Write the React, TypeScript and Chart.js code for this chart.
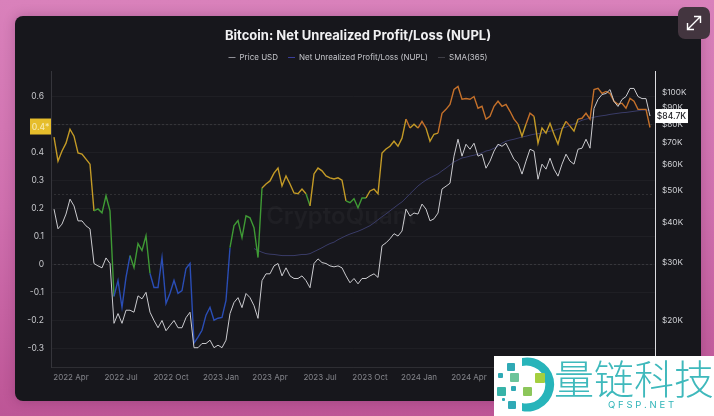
import { useEffect, useRef } from "react"
import { Chart, registerables } from "chart.js"

Chart.register(...registerables)

// one reading every 7 days or so, starting March 2022
const nupl = [
  0.456, 0.37, 0.406, 0.434, 0.484, 0.459, 0.399, 0.395, 0.377, 0.359,
  0.192, 0.199, 0.185, 0.246, 0.192, -0.114, -0.057, -0.153, -0.046, 0.032,
  -0.011, 0.075, 0.05, 0.103, -0.032, -0.082, -0.082, 0.025, -0.139, -0.103,
  -0.057, -0.103, -0.093, -0.014, 0.004, -0.281,
  -0.26, -0.235, -0.181, -0.153, -0.199, -0.192, -0.189, -0.128, 0.06, 0.139,
  0.157, 0.096, 0.174, 0.167, 0.132, 0.025, 0.274, 0.288, 0.299, 0.327,
  0.345, 0.281, 0.317, 0.288, 0.256, 0.253, 0.27, 0.253, 0.21, 0.324,
  0.345, 0.335, 0.317, 0.31, 0.306, 0.31, 0.302,
  0.228, 0.221, 0.235, 0.203, 0.238, 0.238, 0.263, 0.27, 0.253, 0.399,
  0.413, 0.423, 0.441, 0.423, 0.452, 0.52, 0.488, 0.502, 0.488, 0.512,
  0.488, 0.441, 0.466, 0.47, 0.541, 0.555, 0.573, 0.626, 0.637, 0.591,
  0.594, 0.591, 0.601, 0.559, 0.566, 0.52,
  0.53, 0.566, 0.584, 0.566, 0.573, 0.548, 0.52, 0.502, 0.459, 0.502,
  0.541, 0.53, 0.434, 0.488, 0.47, 0.505, 0.466, 0.431, 0.484, 0.512,
  0.495, 0.477, 0.52, 0.523, 0.541, 0.52, 0.626, 0.63, 0.612, 0.619,
  0.612, 0.584, 0.573, 0.577, 0.559, 0.594, 0.584, 0.555, 0.555, 0.555,
  0.49,
]

// thousands of USD
const priceUsd = [
  43.9, 38.2, 39.5, 42.4, 47.1, 44.9, 40.4, 40.4, 39.0, 38.2,
  29.9, 29.4, 29.0, 31.1, 29.9, 19.6, 21.0, 19.6, 21.5, 21.5,
  21.2, 23.8, 23.3, 24.4, 21.2, 20.0, 19.0, 20.0, 18.6, 19.3,
  20.0, 19.0, 19.0, 20.4, 21.2, 16.5,
  16.5, 17.0, 17.0, 17.4, 16.5, 16.8, 16.5, 17.4, 21.0, 22.7,
  23.5, 21.9, 24.2, 23.5, 22.2, 20.3, 26.5, 27.8, 27.8, 29.4,
  29.9, 27.4, 29.0, 27.4, 26.9, 26.9, 27.4, 26.5, 25.2, 29.9,
  30.9, 30.1, 29.9, 29.4, 29.2, 29.4, 29.0,
  27.4, 26.1, 26.9, 25.9, 26.9, 26.9, 27.4, 27.8, 27.1, 33.9,
  34.6, 35.6, 36.9, 36.3, 37.6, 43.9, 41.8, 42.7, 42.4, 45.5,
  43.9, 40.4, 41.0, 42.7, 50.6, 51.6, 52.7, 63.8, 71.9, 63.8,
  69.4, 67.0, 69.9, 63.8, 64.7, 58.6,
  61.6, 66.1, 69.4, 68.4, 69.9, 66.1, 62.4, 60.7, 56.2, 61.6,
  67.0, 66.1, 54.2, 60.3, 58.2, 62.9, 58.2, 55.4, 60.3, 64.7,
  61.6, 60.3, 67.0, 67.5, 71.9, 67.5, 89.4, 95.2, 98.6, 99.3,
  102.1, 93.9, 90.6, 95.2, 97.2, 102.9, 102.9, 97.2, 95.8, 95.8,
  84.7,
]

// the 365 day average only starts at reading 50
const smaStart = 50
const sma365 = [
  0.057, 0.05, 0.044, 0.039, 0.037, 0.036, 0.034, 0.032, 0.032, 0.032,
  0.032, 0.034, 0.036, 0.036, 0.039, 0.046, 0.053, 0.06, 0.068, 0.075,
  0.08, 0.089, 0.096, 0.103, 0.109, 0.114, 0.119, 0.125, 0.132, 0.139,
  0.149, 0.16, 0.171, 0.181, 0.192, 0.203, 0.214, 0.224, 0.238, 0.253,
  0.267, 0.281, 0.292, 0.302, 0.31, 0.317, 0.324, 0.335, 0.345, 0.356,
  0.367, 0.374, 0.381, 0.384, 0.388, 0.391, 0.395, 0.399, 0.406, 0.409,
  0.416, 0.423, 0.434, 0.441, 0.445, 0.448, 0.452, 0.456, 0.459, 0.463,
  0.466, 0.468, 0.47, 0.473, 0.477, 0.48, 0.484, 0.488, 0.491, 0.498,
  0.502, 0.509, 0.516, 0.52, 0.523, 0.527, 0.53, 0.532, 0.534, 0.537,
  0.539, 0.541, 0.543, 0.544, 0.546, 0.548, 0.55, 0.552, 0.552, 0.552,
]

const xLabels = ["2022 Apr", "2022 Jul", "2022 Oct", "2023 Jan", "2023 Apr", "2023 Jul", "2023 Oct", "2024 Jan", "2024 Apr", "2024 Jul", "2024 Oct", "2025 Jan"]
const xTickAt = [4.25, 16.75, 29.25, 41.75, 54, 66.5, 79, 91.25, 103.75, 116.25, 128.5, 141]
const nuplTicks = [-0.3, -0.2, -0.1, 0, 0.1, 0.2, 0.3, 0.4, 0.5, 0.6]
const priceTicks = [20, 30, 40, 50, 60, 70, 80, 90, 100]
const zoneLines = [0, 0.25, 0.5]

const FONT = "Inter, 'Noto Sans', sans-serif"

function zoneColor(v: number) {
  if (v < 0) return "#2a4db5"
  if (v < 0.25) return "#3f9a35"
  if (v < 0.5) return "#c39a26"
  return "#c4702a"
}

const overlay = {
  id: "overlay",
  beforeDatasetsDraw(chart: any) {
    const { ctx, chartArea, scales } = chart
    ctx.save()
    // watermark
    ctx.fillStyle = "rgba(255,255,255,0.035)"
    ctx.font = `600 24px ${FONT}`
    ctx.textAlign = "center"
    ctx.textBaseline = "middle"
    ctx.fillText("CryptoQuant", 341, 217)
    // dashed zone lines
    ctx.strokeStyle = "rgba(255,255,255,0.16)"
    ctx.lineWidth = 0.7
    ctx.setLineDash([2, 2])
    zoneLines.forEach((v) => {
      const y = scales.y.getPixelForValue(v)
      ctx.beginPath()
      ctx.moveTo(chartArea.left + 3, y)
      ctx.lineTo(chartArea.right - 2, y)
      ctx.stroke()
    })
    ctx.restore()
  },
  afterDraw(chart: any) {
    const { ctx, scales } = chart
    ctx.save()
    ctx.textAlign = "center"
    ctx.textBaseline = "middle"
    ctx.font = `500 8.5px ${FONT}`
    const lastPrice = priceUsd[priceUsd.length - 1]
    const py = scales.price.getPixelForValue(lastPrice)
    ctx.fillStyle = "#ffffff"
    ctx.fillRect(655, py - 7, 33, 14)
    ctx.fillStyle = "#1b1b20"
    ctx.fillText("$84.7K", 671.5, py + 0.5)
    const ny = scales.y.getPixelForValue(nupl[nupl.length - 1])
    ctx.fillStyle = "#e6bd2b"
    ctx.fillRect(30, ny - 9, 21, 16)
    ctx.fillStyle = "#f7e9b0"
    ctx.fillText("0.4*", 40.5, ny - 0.5)
    ctx.restore()
  },
}

function Logo() {
  const squares = [
    [507, 363, 8, "#2fa9b5"], [498, 373, 5, "#2fa9b5"], [510, 373, 9, "#6cc49a"],
    [535, 373, 10, "#a5cf3f"], [497, 387, 9, "#37b3a8"], [511, 386, 5, "#2fa9b5"],
    [523, 387, 9, "#8cc65a"], [508, 401, 8, "#2fa9b5"], [502, 398, 3, "#2fa9b5"],
  ] as [number, number, number, string][]
  return (
    <svg width={70} height={60} viewBox="494 356 70 60" style={{ position: "absolute", left: 0, top: 0 }}>
      <path d="M522 358 A27 27 0 1 1 522 411 L522 403 A19 19 0 1 0 522 366 Z" fill="#27b4ba" />
      {squares.map(([x, y, s, c], i) => (
        <rect key={i} x={x} y={y} width={s} height={s} rx={1} fill={c} />
      ))}
    </svg>
  )
}

export default function App() {
  const chartRef = useRef<HTMLCanvasElement>(null)

  useEffect(() => {
    if (!chartRef.current) return
    document.body.style.margin = "0"

    const chart = new Chart(chartRef.current, {
      type: "line",
      data: {
        datasets: [
          {
            label: "Price USD",
            data: priceUsd.map((y, x) => ({ x, y })),
            yAxisID: "price",
            borderColor: "#cbcbcf",
            backgroundColor: "#8f8f96",
            borderWidth: 1,
          },
          {
            label: "Net Unrealized Profit/Loss (NUPL)",
            data: nupl.map((y, x) => ({ x, y })),
            yAxisID: "y",
            borderColor: "#3b3f9c",
            backgroundColor: "#3b3f9c",
            borderWidth: 1.4,
            segment: {
              borderColor: (c: any) => zoneColor((c.p0.parsed.y + c.p1.parsed.y) / 2),
            },
          },
          {
            label: "SMA(365)",
            data: sma365.map((y, i) => ({ x: i + smaStart, y })),
            yAxisID: "y",
            borderColor: "#3a3c68",
            backgroundColor: "#3f3f47",
            borderWidth: 1,
          },
        ] as any,
      },
      options: {
        animation: false,
        responsive: false,
        devicePixelRatio: 1,
        elements: { point: { radius: 0 }, line: { tension: 0 } },
        layout: { padding: { left: 15, right: 13, top: 28, bottom: 25 } },
        plugins: {
          tooltip: { enabled: false },
          title: {
            display: true,
            text: "Bitcoin: Net Unrealized Profit/Loss (NUPL)",
            color: "#f0f0f2",
            font: { family: FONT, size: 13, weight: "bold" },
            padding: 0,
          },
          legend: {
            position: "top",
            labels: {
              color: "#c4c5ca",
              font: { family: FONT, size: 8 },
              boxWidth: 7,
              boxHeight: 1,
              padding: 10,
              generateLabels: (c: any) =>
                Chart.defaults.plugins.legend.labels.generateLabels(c).map((l: any) => ({ ...l, lineWidth: 0 })),
            },
          },
        },
        scales: {
          x: {
            type: "linear",
            min: -0.75,
            max: 150.25,
            afterBuildTicks: (s: any) => {
              s.ticks = xTickAt.map((value) => ({ value }))
            },
            grid: { display: false, drawTicks: false },
            border: { color: "rgba(255,255,255,0.1)" },
            afterFit: (s: any) => {
              s.height = 24
            },
            ticks: {
              color: "#85868c",
              font: { family: FONT, size: 8 },
              maxRotation: 0,
              autoSkip: false,
              padding: 6,
              callback: (v: any) => xLabels[xTickAt.indexOf(v)],
            },
          },
          y: {
            type: "linear",
            position: "left",
            min: -0.3665,
            max: 0.69,
            afterBuildTicks: (s: any) => {
              s.ticks = nuplTicks.map((value) => ({ value }))
            },
            afterFit: (s: any) => {
              s.width = 36
            },
            grid: { color: "rgba(255,255,255,0.035)", drawTicks: false },
            border: { color: "#35353b" },
            ticks: {
              color: "#c6c7cb",
              font: { family: FONT, size: 8.5 },
              padding: 7,
              callback: (v: any) => (v === 0.5 ? "" : String(v)),
            },
          },
          price: {
            type: "logarithmic",
            position: "right",
            min: 14.4,
            max: 115.9,
            afterBuildTicks: (s: any) => {
              s.ticks = priceTicks.map((value) => ({ value }))
            },
            afterFit: (s: any) => {
              s.width = 46
            },
            grid: { display: false, drawTicks: false },
            border: { color: "#dcdce0" },
            ticks: {
              color: "#d0d1d5",
              font: { family: FONT, size: 8.2 },
              padding: 7,
              autoSkip: false,
              callback: (v: any) => `$${v}K`,
            },
          },
        },
      } as any,
      plugins: [overlay],
    })

    return () => chart.destroy()
  }, [])

  return (
    <div
      style={{
        position: "fixed",
        inset: 0,
        overflow: "hidden",
        background: "linear-gradient(180deg, #d981bb 0%, #cf6fae 50%, #bd5596 100%)",
      }}
    >
      <div
        style={{
          position: "absolute",
          left: 15,
          top: 16,
          width: 686,
          height: 385,
          borderRadius: 8,
          background: "#17171c",
          boxShadow: "0 0 12px rgba(60,10,50,0.25)",
        }}
      />
      <canvas ref={chartRef} width={714} height={416} style={{ position: "absolute", left: 0, top: 0 }} />
      <div
        style={{
          position: "absolute",
          left: 678,
          top: 7,
          width: 32,
          height: 32,
          borderRadius: 7,
          background: "#43353f",
        }}
      >
        <svg width={32} height={32} viewBox="0 0 32 32" fill="none" stroke="#fff" strokeWidth={1.4}>
          <path d="M10 22 L22 10 M16 9.5 H22.5 V16 M9.5 16 V22.5 H16" />
        </svg>
      </div>
      <div style={{ position: "absolute", left: 494, top: 356, width: 220, height: 60, background: "#fff" }}>
        <Logo />
        <div
          style={{
            position: "absolute",
            left: 60,
            top: -5,
            fontFamily: "'Noto Sans CJK SC'",
            fontWeight: 300,
            fontSize: 40,
            lineHeight: "52px",
            color: "#3fb9bc",
            whiteSpace: "nowrap",
          }}
        >
          量链科技
        </div>
        <div
          style={{
            position: "absolute",
            left: 114,
            top: 43,
            fontFamily: FONT,
            fontSize: 9.5,
            letterSpacing: 2.8,
            color: "#2fb4b8",
            whiteSpace: "nowrap",
          }}
        >
          QFSP.NET
        </div>
      </div>
    </div>
  )
}
